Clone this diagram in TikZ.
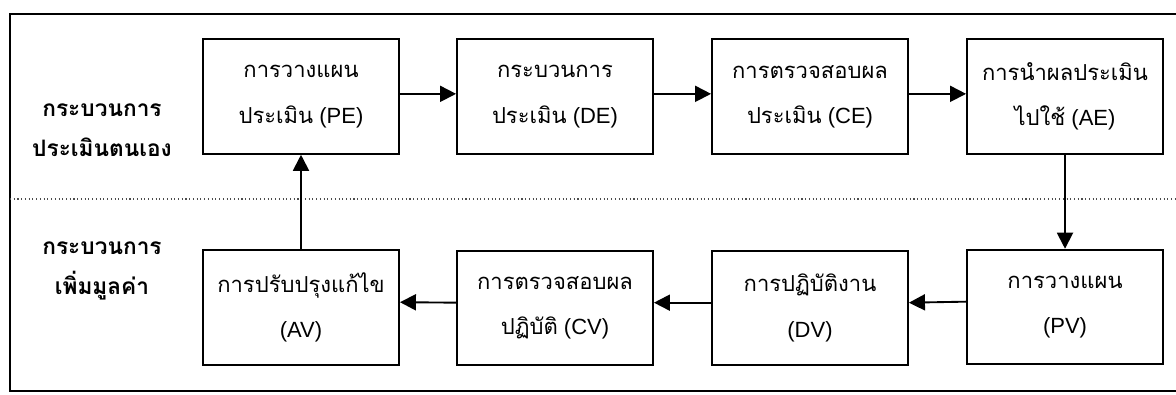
\documentclass[tikz,border=0pt]{standalone}
\usepackage{fontspec}
\setmainfont{Liberation Sans}
\newfontfamily\thaifont[Script=Thai]{Loma}
\usetikzlibrary{arrows.meta}

\begin{document}
\begin{tikzpicture}[
  x=0.75pt, y=-0.75pt,
  stage/.style={
    draw, line width=1.4pt,
    minimum width=147pt, minimum height=86pt,
    inner sep=0pt, align=center,
    font=\fontsize{16.5}{34}\selectfont
  },
  side/.style={font=\thaifont\bfseries\fontsize{17}{30}\selectfont, align=center},
  flow/.style={line width=1.4pt, -{Triangle[length=12pt,width=12pt]}}
]
\useasboundingbox (0,0) rectangle (1176,394);

% --- frame and divider ---
\draw[line width=1.4pt] (1180,14) -- (10,14) -- (10,391) -- (1180,391);
\draw[dotted, line width=0.8pt, black!70] (10,199) -- (1176,199);

% --- side labels ---
\node[side] (selfeval) at (102,130) {กระบวนการ\\ประเมินตนเอง};
\node[side] (addvalue) at (102,271) {กระบวนการ\\เพิ่มมูลค่า};

% --- upper row ---
\foreach \n/\x/\a/\b in {pe/301/การวางแผน/ประเมิน,
                         de/555/กระบวนการ/ประเมิน,
                         ce/810/การตรวจสอบผล/ประเมิน,
                         ae/1065/การนำผลประเมิน/ไปใช้} {
  \node[stage] (\n) at (\x,96.5) {{\thaifont\a}\\{\thaifont\b}\ (\MakeUppercase{\n})};
}

% --- lower row ---
\node[stage] (pv) at (1065,307) {{\thaifont การวางแผน}\\(PV)};
\node[stage] (dv) at (810,308) {{\thaifont การปฏิบัติงาน}\\(DV)};
\node[stage] (cv) at (555,308) {{\thaifont การตรวจสอบผล}\\{\thaifont ปฏิบัติ} (CV)};
\node[stage] (av) at (301,307.5) {{\thaifont การปรับปรุงแก้ไข}\\(AV)};

% --- connectors ---
\draw[flow] ([yshift=2pt]pe.east) -- ([yshift=2pt]de.west);
\draw[flow] ([yshift=2pt]de.east) -- ([yshift=2pt]ce.west);
\draw[flow] ([yshift=2pt]ce.east) -- ([yshift=2pt]ae.west);
\draw[flow] (ae.south) -- (pv.north);
\draw[flow] ([yshift=4pt]pv.west) -- ([yshift=4pt]dv.east);
\draw[flow] ([yshift=4pt]dv.west) -- ([yshift=4pt]cv.east);
\draw[flow] ([yshift=4pt]cv.west) -- ([yshift=4pt]av.east);
\draw[flow] (av.north) -- (pe.south);

\end{tikzpicture}
\end{document}
